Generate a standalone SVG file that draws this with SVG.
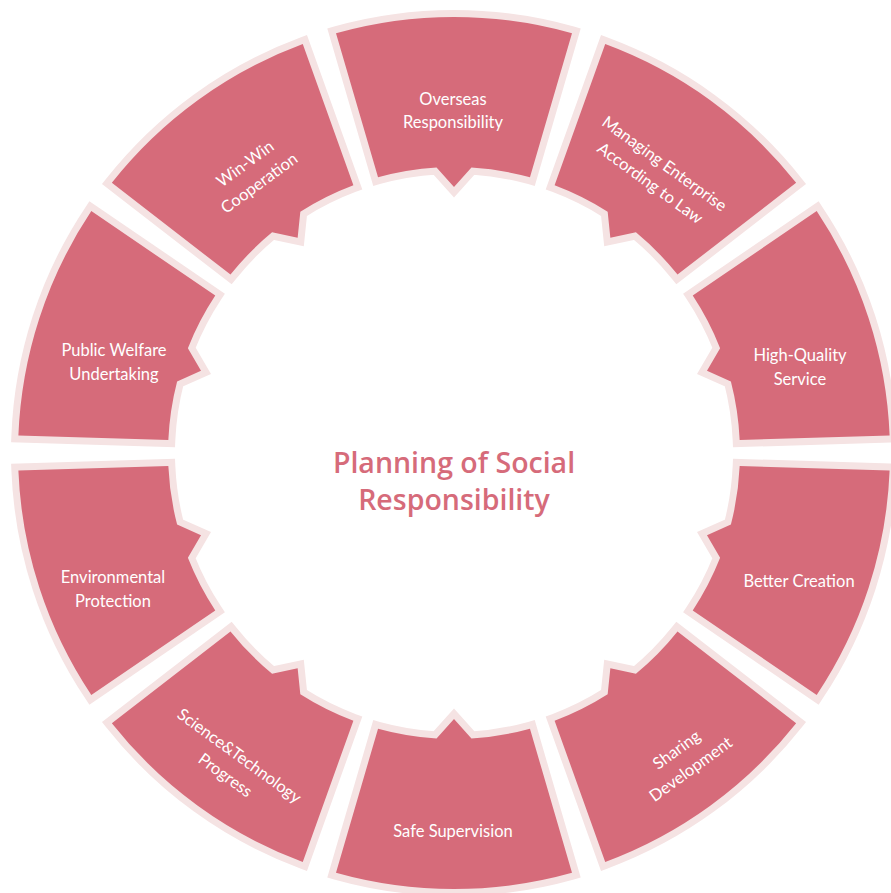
<svg xmlns="http://www.w3.org/2000/svg" width="891" height="893" viewBox="0 0 891 893">
<defs>
<style>
.seg{fill:#D66B7A;stroke:#F5E3E3;stroke-width:14;paint-order:stroke fill;stroke-linejoin:miter;stroke-miterlimit:10}
.lbl{font-family:Lato,"Open Sans","Liberation Sans",sans-serif;font-size:16.5px;fill:#FFFFFF;text-anchor:middle}
.title{font-family:"Open Sans","Liberation Sans",sans-serif;font-weight:600;font-size:28.5px;fill:#D66B7A;text-anchor:middle}
</style>
<path id="seg" class="seg" d="M336,33.3 A436,436 0 0 1 572,33.3 L529.96,177.3 A286,286 0 0 0 471.46,167.53 L454,187 L436.54,167.53 A286,286 0 0 0 378.04,177.3 Z"/>
</defs>
<rect width="891" height="893" fill="#FFFFFF"/>
<g id="connectors"/>
<g id="node-overseas">
<use href="#seg"/>
<text class="lbl" x="453" y="105">Overseas</text>
<text class="lbl" x="453" y="128">Responsibility</text>
</g>
<g id="node-managing">
<use href="#seg" transform="rotate(36 454 453)"/>
<text class="lbl" transform="translate(654 178) rotate(36)"><tspan x="0" y="-12">Managing Enterprise</tspan><tspan x="0" y="12">According to Law</tspan></text>
</g>
<g id="node-quality">
<use href="#seg" transform="rotate(72 454 453)"/>
<text class="lbl" x="800" y="361">High-Quality</text>
<text class="lbl" x="800" y="385">Service</text>
</g>
<g id="node-creation">
<use href="#seg" transform="rotate(108 454 453)"/>
<text class="lbl" x="799" y="587">Better Creation</text>
</g>
<g id="node-sharing">
<use href="#seg" transform="rotate(144 454 453)"/>
<text class="lbl" transform="translate(687 764) rotate(-36)"><tspan x="0" y="-12">Sharing</tspan><tspan x="0" y="12">Development</tspan></text>
</g>
<g id="node-safe">
<use href="#seg" transform="rotate(180 454 453)"/>
<text class="lbl" x="453" y="837">Safe Supervision</text>
</g>
<g id="node-science">
<use href="#seg" transform="rotate(216 454 453)"/>
<text class="lbl" transform="translate(229 770) rotate(36)"><tspan x="0" y="-12">Science&amp;Technology</tspan><tspan x="0" y="12">Progress</tspan></text>
</g>
<g id="node-environment">
<use href="#seg" transform="rotate(252 454 453)"/>
<text class="lbl" x="113" y="583">Environmental</text>
<text class="lbl" x="113" y="607">Protection</text>
</g>
<g id="node-welfare">
<use href="#seg" transform="rotate(288 454 453)"/>
<text class="lbl" x="114" y="356">Public Welfare</text>
<text class="lbl" x="114" y="380">Undertaking</text>
</g>
<g id="node-winwin">
<use href="#seg" transform="rotate(324 454 453)"/>
<text class="lbl" transform="translate(255.5 178) rotate(-36)"><tspan x="0" y="-12">Win-Win</tspan><tspan x="0" y="12">Cooperation</tspan></text>
</g>
<g id="node-center">
<text class="title" x="454" y="473">Planning of Social</text>
<text class="title" x="454" y="510">Responsibility</text>
</g>
</svg>
